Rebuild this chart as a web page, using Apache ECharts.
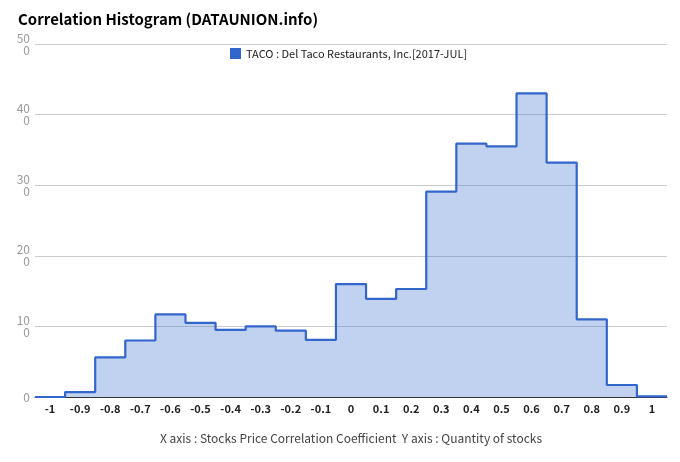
<!DOCTYPE html>
<html>
<head>
<meta charset="utf-8">
<script src="https://cdn.jsdelivr.net/npm/echarts@6/dist/echarts.min.js"></script>
<style>
  html, body { margin: 0; padding: 0; background: #fff; }
  #histChart { width: 680px; height: 462px; }
</style>
</head>
<body>
<div id="histChart"></div>
<script>
// correlation buckets and stock counts
const categories = ["-1", "-0.9", "-0.8", "-0.7", "-0.6", "-0.5", "-0.4", "-0.3", "-0.2", "-0.1",
  "0", "0.1", "0.2", "0.3", "0.4", "0.5", "0.6", "0.7", "0.8", "0.9", "1"];
const centers = [-1, -0.9, -0.8, -0.7, -0.6, -0.5, -0.4, -0.3, -0.2, -0.1,
  0, 0.1, 0.2, 0.3, 0.4, 0.5, 0.6, 0.7, 0.8, 0.9, 1];
const counts = [0, 7, 56, 80, 117, 105, 95, 100, 94, 81,
  160, 139, 153, 291, 359, 355, 430, 332, 110, 17, 1];
const yTicks = [0, 100, 200, 300, 400, 500];
const seriesName = "TACO : Del Taco Restaurants, Inc.[2017-JUL]";

const font = "'Noto Sans CJK KR', 'Noto Sans', sans-serif";

// each bucket is a flat step across its band
const stepData = [];
centers.forEach((c, i) => {
  stepData.push([c - 0.05, counts[i]]);
  stepData.push([c + 0.05, counts[i]]);
});

const chart = echarts.init(document.getElementById("histChart"));
chart.setOption({
  animation: false,
  textStyle: { fontFamily: font },
  title: {
    text: "Correlation Histogram (DATAUNION.info)",
    left: 13,
    top: 7,
    textStyle: { fontSize: 15, fontWeight: "bold", color: "#000", fontFamily: font },
  },
  legend: {
    top: 43,
    left: 225,
    icon: "rect",
    itemWidth: 11,
    itemHeight: 11,
    itemGap: 8,
    textStyle: { fontSize: 11, color: "#222", fontFamily: font },
    data: [seriesName],
  },
  grid: { left: 35, right: 13, top: 44, bottom: 65 },
  xAxis: [
    {
      type: "category",
      data: categories,
      boundaryGap: true,
      axisLine: { lineStyle: { color: "#333", width: 1 } },
      axisTick: { show: false },
      axisLabel: { color: "#222", fontSize: 11, fontWeight: "bold", margin: 6 },
      name: "X axis : Stocks Price Correlation Coefficient  Y axis : Quantity of stocks",
      nameLocation: "middle",
      nameGap: 35,
      nameTextStyle: { color: "#444", fontSize: 12 },
    },
    {
      type: "value",
      min: -1.05,
      max: 1.05,
      show: false,
    },
  ],
  yAxis: {
    type: "value",
    min: yTicks[0],
    max: yTicks[yTicks.length - 1],
    interval: yTicks[1] - yTicks[0],
    axisLine: { show: false },
    axisTick: { show: false },
    splitLine: { lineStyle: { color: "#ccc" } },
    axisLabel: {
      color: "#999",
      fontSize: 12,
      margin: 5,
      lineHeight: 12,
      formatter: (v) => {
        const s = String(v);
        return s.length > 2 ? s.slice(0, 2) + "\n" + s.slice(2) : s;
      },
    },
  },
  series: [
    {
      name: seriesName,
      type: "line",
      xAxisIndex: 1,
      data: stepData,
      symbol: "none",
      lineStyle: { color: "#3366cc", width: 2.2 },
      itemStyle: { color: "#3366cc" },
      areaStyle: { color: "rgba(51,102,204,0.3)", opacity: 1 },
    },
  ],
});
</script>
</body>
</html>
